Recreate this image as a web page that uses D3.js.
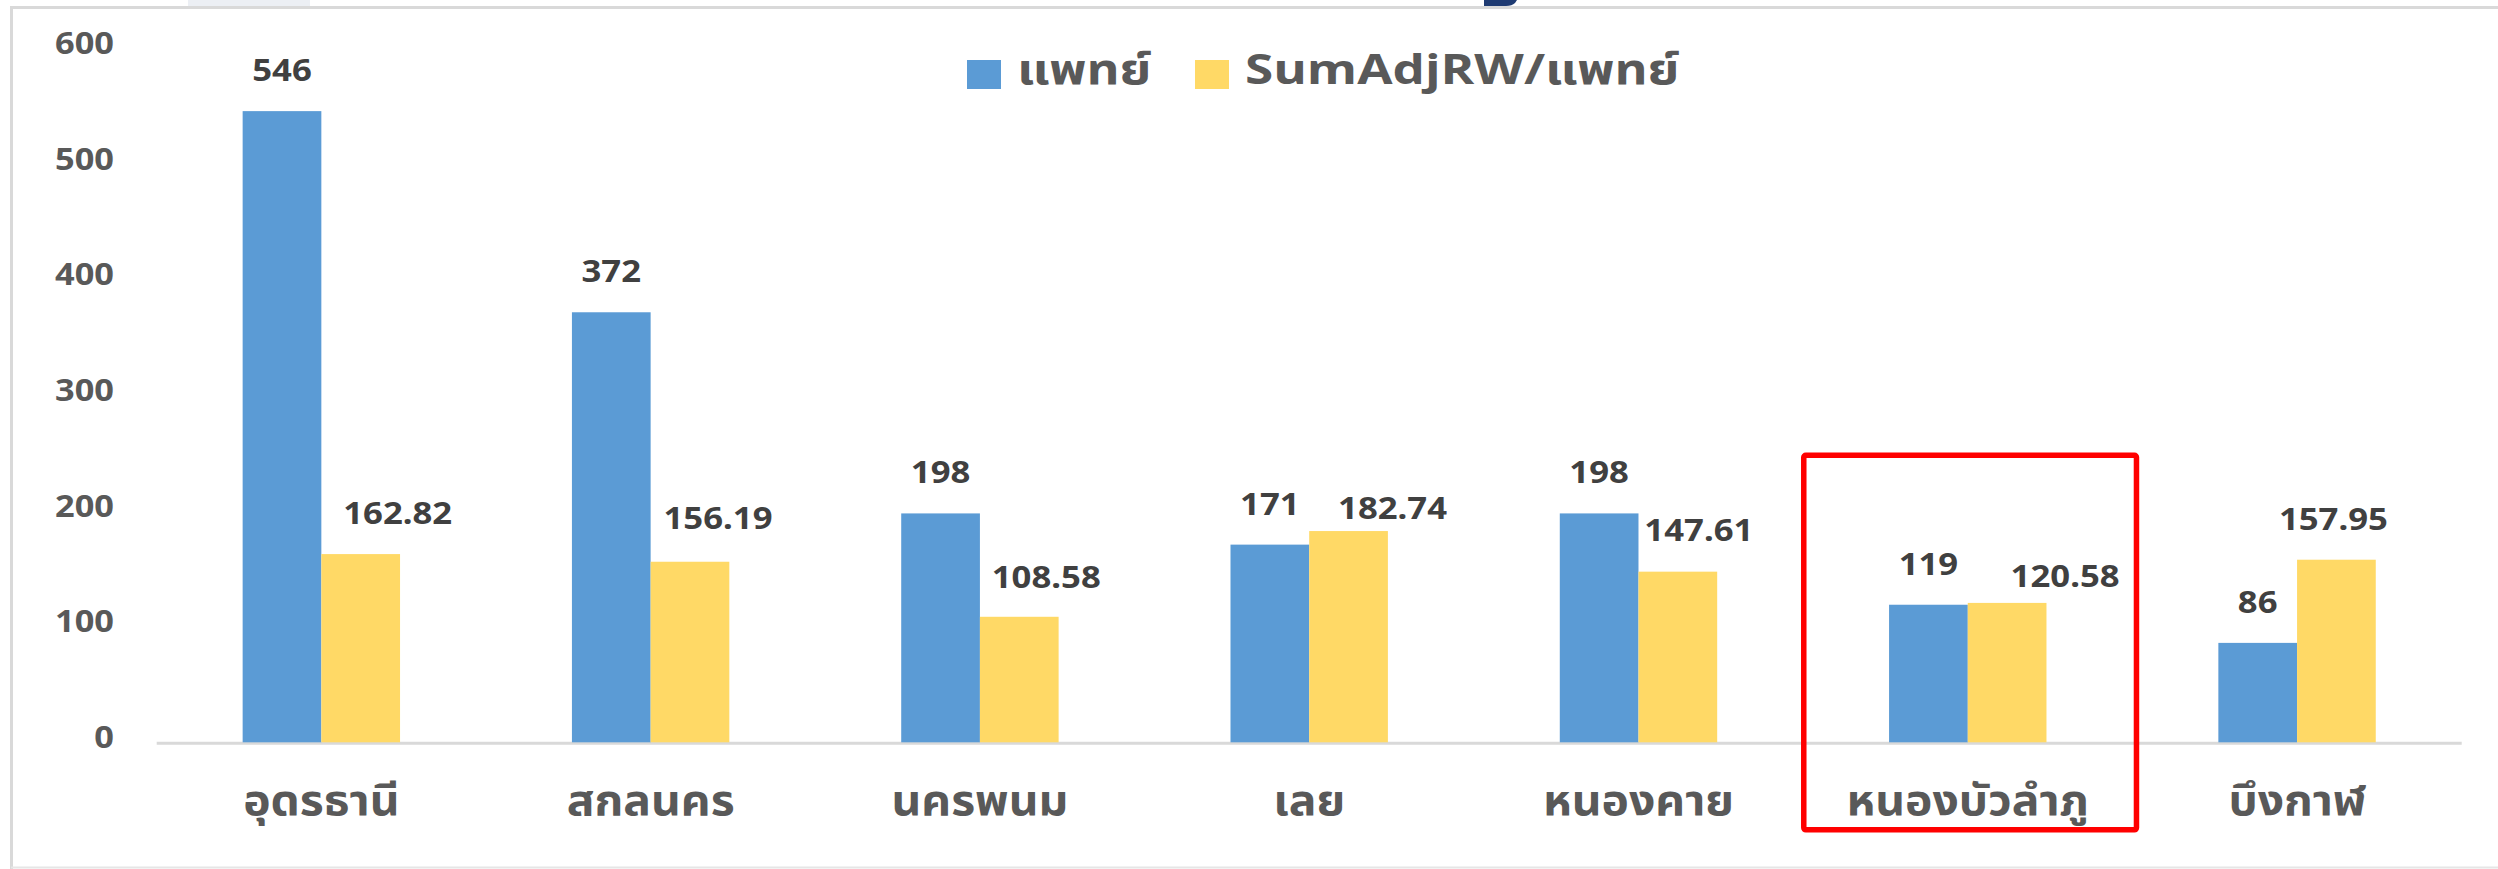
<!DOCTYPE html>
<html>
<head>
<meta charset="utf-8">
<script src="https://cdn.jsdelivr.net/npm/d3@7"></script>
<style>
  html, body { margin: 0; padding: 0; background: #ffffff; }
  svg { display: block; }
  text { font-family: "Noto Sans Thai", "Noto Sans", "Open Sans", sans-serif; font-weight: 700; }
</style>
</head>
<body>
<svg id="chart" width="2498" height="869"></svg>
<script>
// Provinces and the two series shown per province
const provinces = ["อุดรธานี", "สกลนคร", "นครพนม", "เลย", "หนองคาย", "หนองบัวลำภู", "บึงกาฬ"];
const doctors = [546, 372, 198, 171, 198, 119, 86];
const adjRwPerDoctor = [162.82, 156.19, 108.58, 182.74, 147.61, 120.58, 157.95];
const seriesNames = ["แพทย์", "SumAdjRW/แพทย์"];
const yTicks = [0, 100, 200, 300, 400, 500, 600];

// Hand-placed label nudges (px) for the second series' value labels
const adjLabelShift = [[37, 0], [28, -3], [27, 1], [44, 18], [21, -1], [58, 14], [-3, 0]];

const COLORS = { blue: "#5b9bd5", yellow: "#ffd966", axis: "#d9d9d9", text: "#595959", value: "#404040", frame: "#d9d9d9" };

// The labels use a wide display face; stretch the fallback glyphs to suit
const STRETCH = { value: 1.12, axis: 1.11, category: 1.1, legend: 1.22 };

const svg = d3.select("#chart");

// Outer frame of the chart area
svg.append("rect").attr("x", 188).attr("y", 0).attr("width", 122).attr("height", 6).attr("fill", "#eceff4");
svg.append("path").attr("d", "M1484,0 L1517,0 L1515,3 Q1512,6 1506,6 L1484,6 Z").attr("fill", "#1f3b73");
svg.append("line").attr("x1", 11).attr("x2", 2498).attr("y1", 7.5).attr("y2", 7.5).attr("stroke", COLORS.frame).attr("stroke-width", 3);
svg.append("line").attr("x1", 11.5).attr("x2", 11.5).attr("y1", 6).attr("y2", 869).attr("stroke", COLORS.frame).attr("stroke-width", 3);
svg.append("line").attr("x1", 11).attr("x2", 2498).attr("y1", 867.5).attr("y2", 867.5).attr("stroke", "#e6e6e6").attr("stroke-width", 2);

const plot = { left: 156.7, right: 2461.7, zeroY: 742.3, pxPerUnit: 1.156 };

const x = d3.scaleBand()
  .domain(provinces)
  .range([plot.left, plot.right])
  .paddingInner(0.522)
  .paddingOuter(0.261);

const y = d3.scaleLinear()
  .domain([0, 600])
  .range([plot.zeroY, plot.zeroY - 600 * plot.pxPerUnit]);

const xSub = d3.scaleBand().domain([0, 1]).range([0, x.bandwidth()]);

// Y axis labels (no tick lines, no domain line)
const yAxis = d3.axisLeft(y).tickValues(yTicks).tickSize(0).tickPadding(0);
const gy = svg.append("g").attr("transform", "translate(114,-5)").call(yAxis);
gy.select(".domain").remove();
gy.selectAll("text")
  .attr("fill", COLORS.text)
  .attr("transform", `scale(${STRETCH.axis},1)`)
  .style("font-size", "31px")
  .style("font-family", "'Noto Sans', 'Open Sans', sans-serif")
  .style("font-weight", 700);

// Baseline
svg.append("line")
  .attr("x1", plot.left).attr("x2", plot.right)
  .attr("y1", y(0) + 1).attr("y2", y(0) + 1)
  .attr("stroke", COLORS.axis).attr("stroke-width", 3);

// Bars
const groups = svg.append("g").selectAll("g")
  .data(provinces)
  .join("g")
  .attr("transform", d => `translate(${x(d)},0)`);

groups.append("rect")
  .attr("x", xSub(0)).attr("width", xSub.bandwidth())
  .attr("y", (d, i) => y(doctors[i]))
  .attr("height", (d, i) => y(0) - y(doctors[i]))
  .attr("fill", COLORS.blue);

groups.append("rect")
  .attr("x", xSub(1)).attr("width", xSub.bandwidth())
  .attr("y", (d, i) => y(adjRwPerDoctor[i]))
  .attr("height", (d, i) => y(0) - y(adjRwPerDoctor[i]))
  .attr("fill", COLORS.yellow);

// Value labels
const valueStyle = sel => sel
  .attr("text-anchor", "middle")
  .attr("fill", COLORS.value)
  .style("font-size", "31px")
  .style("font-family", "'Noto Sans', 'Open Sans', sans-serif")
  .style("font-weight", 700);

groups.append("text")
  .attr("transform", (d, i) =>
    `translate(${xSub(0) + xSub.bandwidth() / 2},${y(doctors[i]) - 30}) scale(${STRETCH.value},1)`)
  .text((d, i) => doctors[i])
  .call(valueStyle);

groups.append("text")
  .attr("transform", (d, i) =>
    `translate(${xSub(1) + xSub.bandwidth() / 2 + adjLabelShift[i][0]},${y(adjRwPerDoctor[i]) - 30 + adjLabelShift[i][1]}) scale(${STRETCH.value},1)`)
  .text((d, i) => d3.format(".2f")(adjRwPerDoctor[i]))
  .call(valueStyle);

// Category labels
svg.append("g").selectAll("text")
  .data(provinces)
  .join("text")
  .attr("transform", d => `translate(${x(d) + x.bandwidth() / 2},815) scale(${STRETCH.category},1)`)
  .attr("text-anchor", "middle")
  .attr("fill", COLORS.text)
  .style("font-size", "42px")
  .text(d => d);

// Legend
const legend = svg.append("g");
const legendItems = [
  { name: seriesNames[0], color: COLORS.blue, x: 967 },
  { name: seriesNames[1], color: COLORS.yellow, x: 1195 }
];
legendItems.forEach(item => {
  legend.append("rect").attr("x", item.x).attr("y", 60).attr("width", 34).attr("height", 29).attr("fill", item.color);
  legend.append("text")
    .attr("transform", `translate(${item.x + 50},84) scale(${STRETCH.legend},1)`)
    .attr("fill", COLORS.text)
    .style("font-size", "42px")
    .text(item.name);
});

// Highlight box around หนองบัวลำภู
const hx = x("หนองบัวลำภู") + x.bandwidth() / 2;
svg.append("rect")
  .attr("x", hx - 164).attr("y", 455.3)
  .attr("width", 332.7).attr("height", 374.5)
  .attr("rx", 2)
  .attr("fill", "none")
  .attr("stroke", "#ff0000")
  .attr("stroke-width", 5.5);
</script>
</body>
</html>
